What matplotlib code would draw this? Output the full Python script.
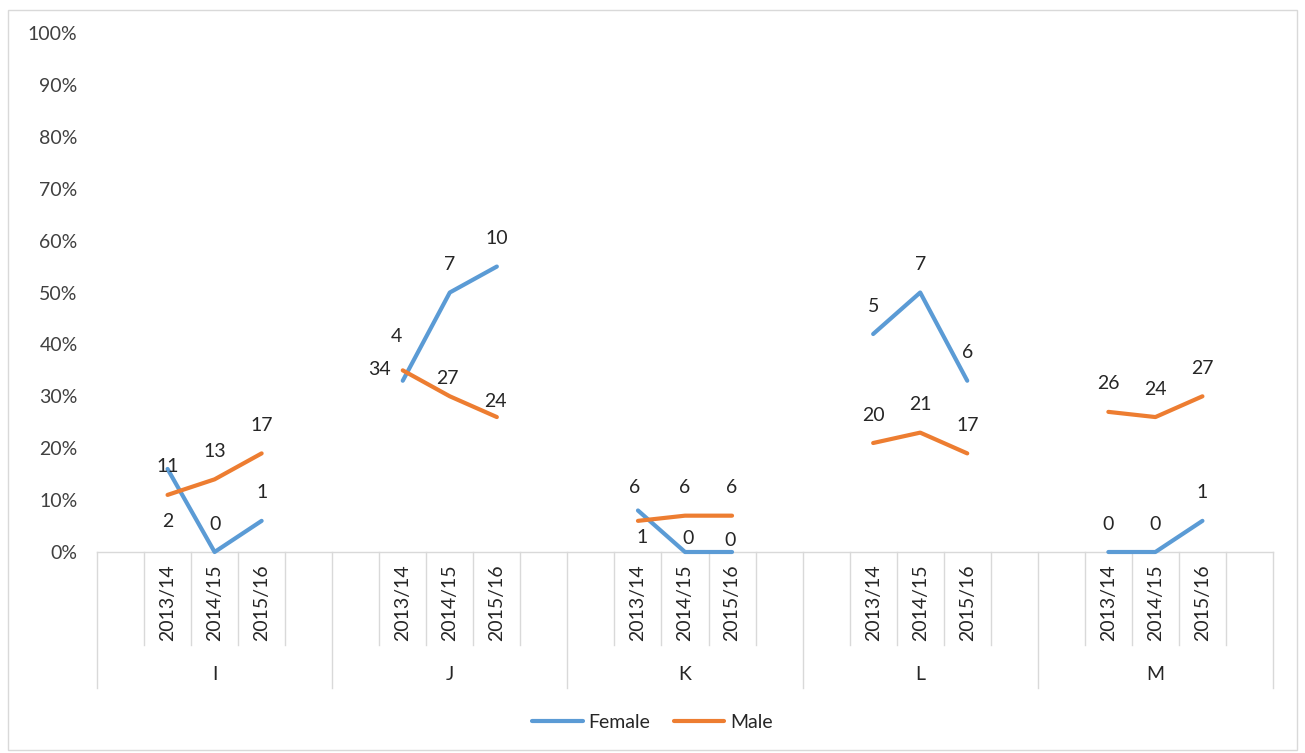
import matplotlib
matplotlib.use("Agg")
import matplotlib.pyplot as plt
from matplotlib.patches import Rectangle
from matplotlib.lines import Line2D
from matplotlib.ticker import PercentFormatter
import numpy as np

plt.rcParams['font.family'] = ['Lato', 'DejaVu Sans']

# ---- data -------------------------------------------------------------
groups = ["I", "J", "K", "L", "M"]
years = ["2013/14", "2014/15", "2015/16"]

female_pct = [
    [16, 0, 6],
    [33, 50, 55],
    [8, 0, 0],
    [42, 50, 33],
    [0, 0, 6],
]
male_pct = [
    [11, 14, 19],
    [35, 30, 26],
    [6, 7, 7],
    [21, 23, 19],
    [27, 26, 30],
]
female_n = [
    [2, 0, 1],
    [4, 7, 10],
    [1, 0, 0],
    [5, 7, 6],
    [0, 0, 1],
]
male_n = [
    [11, 13, 17],
    [34, 27, 24],
    [6, 6, 6],
    [20, 21, 17],
    [26, 24, 27],
]

# ---- styling ----------------------------------------------------------
BLUE = "#5B9BD5"
ORANGE = "#ED7D31"
GRID = "#D9D9D9"
TXT = "#262626"
TICK = "#404040"
FS = 14

# label offsets in pixels (dx, dy; dy positive = downward); default above point
DEFAULT_OFF = (0, -28)
female_off = {(0, 0): (0, 53), (1, 0): (-6, -44),
              (2, 0): (4, 27), (2, 1): (3, -14), (2, 2): (-2, -11)}
male_off = {(1, 0): (-23, -1), (1, 1): (-2, -18), (1, 2): (-1, -16),
            (2, 0): (-3, -33)}

W, H = 1305, 753
fig = plt.figure(figsize=(W / 100, H / 100), dpi=100)

# outer chart frame
fig.patches.append(Rectangle((8 / W, 1 - 750 / H), (1297 - 8) / W, (750 - 10) / H,
                             transform=fig.transFigure, fill=False,
                             edgecolor=GRID, linewidth=1.0))

x0, x1 = 97, 1273
y0, y1 = 552, 33
ax = fig.add_axes([x0 / W, 1 - y0 / H, (x1 - x0) / W, (y0 - y1) / H])

slots_per_group = len(years) + 2
n_slots = slots_per_group * len(groups)
ax.set_xlim(0, n_slots)
ax.set_ylim(0, 1)

for sp in ["top", "right", "left"]:
    ax.spines[sp].set_visible(False)
ax.spines["bottom"].set_color(GRID)
ax.spines["bottom"].set_linewidth(1.0)

ax.yaxis.set_major_formatter(PercentFormatter(1.0, decimals=0))
ax.set_yticks(np.arange(0, 1.01, 0.1))
ax.tick_params(axis="y", length=0, pad=14, labelsize=FS, labelcolor=TICK)
ax.set_xticks([])

px_to_pt = 72 / 100

def draw_series(pcts, counts, color, offs):
    for g, (vals, ns) in enumerate(zip(pcts, counts)):
        xs = [g * slots_per_group + 1 + j + 0.5 for j in range(len(years))]
        ys = [v / 100 for v in vals]
        ax.plot(xs, ys, color=color, lw=3.0, solid_capstyle="round",
                solid_joinstyle="round", clip_on=False, zorder=3)
        for j, (x, y, n) in enumerate(zip(xs, ys, ns)):
            dx, dy = offs.get((g, j), DEFAULT_OFF)
            ax.annotate(str(n), (x, y), xytext=(dx * px_to_pt, -dy * px_to_pt),
                        textcoords="offset points", ha="center", va="center",
                        fontsize=FS, color=TXT, zorder=4)

draw_series(female_pct, female_n, BLUE, female_off)
draw_series(male_pct, male_n, ORANGE, male_off)

# category axis boxes
ph = y0 - y1
grp_bottom = -(688 - y0) / ph
inner_bottom = -(645 - y0) / ph
trans = ax.get_xaxis_transform()
for i in range(n_slots + 1):
    bottom = grp_bottom if i % slots_per_group == 0 else inner_bottom
    ax.plot([i, i], [0, bottom], color=GRID, lw=1.0, transform=trans, clip_on=False)

year_top = -(564 - y0) / ph
grp_y = -(675 - y0) / ph
for g, name in enumerate(groups):
    for j, yr in enumerate(years):
        ax.text(g * slots_per_group + 1 + j + 0.5, year_top, yr, rotation=90,
                ha="center", va="top", fontsize=FS, color=TXT, transform=trans)
    ax.text(g * slots_per_group + slots_per_group / 2, grp_y, name,
            ha="center", va="center", fontsize=FS, color=TXT, transform=trans)

handles = [Line2D([], [], color=BLUE, lw=3.0, solid_capstyle="round"),
           Line2D([], [], color=ORANGE, lw=3.0, solid_capstyle="round")]
fig.legend(handles, ["Female", "Male"], loc="center", bbox_to_anchor=(0.5, 1 - 722 / H),
           ncol=2, frameon=False, fontsize=FS, handlelength=2.6, handletextpad=0.3,
           columnspacing=1.2, labelcolor=TXT)

fig.savefig("out.png", dpi=100)
